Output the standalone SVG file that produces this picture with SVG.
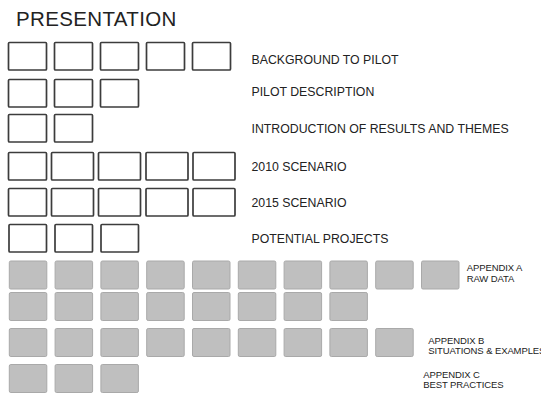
<svg xmlns="http://www.w3.org/2000/svg" width="541" height="393" viewBox="0 0 541 393">
  <style>
    .slide { fill: #ffffff; stroke: #3c3c3c; stroke-width: 1.7; }
    .extra { fill: #bfbfbf; stroke: #a9a9a9; stroke-width: 1; }
    .title { font-family: "Liberation Sans", Arial, sans-serif; font-size: 20.5px; letter-spacing: 0.35px; fill: #222; }
    .label { font-family: "Liberation Sans", Arial, sans-serif; font-size: 12.3px; fill: #222; }
    .small { font-family: "Liberation Sans", Arial, sans-serif; font-size: 9.5px; letter-spacing: -0.1px; fill: #222; }
  </style>
  <rect width="541" height="393" fill="#ffffff"/>

  <text class="title" x="16" y="26">PRESENTATION</text>

  <!-- main sections: one outlined box per slide -->
  <g id="background">
    <rect class="slide" x="8.5" y="42.5" width="38" height="27.5" rx="1"/>
    <rect class="slide" x="54.5" y="42.5" width="38" height="27.5" rx="1"/>
    <rect class="slide" x="100.5" y="42.5" width="38" height="27.5" rx="1"/>
    <rect class="slide" x="146.5" y="42.5" width="38" height="27.5" rx="1"/>
    <rect class="slide" x="192.5" y="42.5" width="38" height="27.5" rx="1"/>
    <text class="label" x="251.5" y="64">BACKGROUND TO PILOT</text>
  </g>
  <g id="pilot-description">
    <rect class="slide" x="8.5" y="79.5" width="38" height="27.5" rx="1"/>
    <rect class="slide" x="54.5" y="79.5" width="38" height="27.5" rx="1"/>
    <rect class="slide" x="100.5" y="79.5" width="38" height="27.5" rx="1"/>
    <text class="label" x="251.5" y="95.7">PILOT DESCRIPTION</text>
  </g>
  <g id="introduction">
    <rect class="slide" x="8.5" y="114.5" width="38" height="27.5" rx="1"/>
    <rect class="slide" x="54.5" y="114.5" width="38" height="27.5" rx="1"/>
    <text class="label" x="251.5" y="133.2">INTRODUCTION OF RESULTS AND THEMES</text>
  </g>
  <g id="scenario-2010">
    <rect class="slide" x="8.5" y="152.5" width="38" height="27.5" rx="1"/>
    <rect class="slide" x="51.5" y="152.5" width="42" height="27.5" rx="1"/>
    <rect class="slide" x="98.5" y="152.5" width="42" height="27.5" rx="1"/>
    <rect class="slide" x="146" y="152.5" width="42" height="27.5" rx="1"/>
    <rect class="slide" x="193" y="152.5" width="42" height="27.5" rx="1"/>
    <text class="label" x="251.5" y="170.6">2010 SCENARIO</text>
  </g>
  <g id="scenario-2015">
    <rect class="slide" x="8.5" y="188.5" width="38" height="27.5" rx="1"/>
    <rect class="slide" x="51.5" y="188.5" width="42" height="27.5" rx="1"/>
    <rect class="slide" x="98.5" y="188.5" width="42" height="27.5" rx="1"/>
    <rect class="slide" x="146" y="188.5" width="42" height="27.5" rx="1"/>
    <rect class="slide" x="193" y="188.5" width="42" height="27.5" rx="1"/>
    <text class="label" x="251.5" y="207.2">2015 SCENARIO</text>
  </g>
  <g id="potential-projects">
    <rect class="slide" x="9" y="224.5" width="37.5" height="27.5" rx="1"/>
    <rect class="slide" x="55" y="224.5" width="37.5" height="27.5" rx="1"/>
    <rect class="slide" x="101" y="224.5" width="37.5" height="27.5" rx="1"/>
    <text class="label" x="251.5" y="243.2">POTENTIAL PROJECTS</text>
  </g>

  <!-- appendices: filled grey boxes -->
  <g id="appendix-a">
    <rect class="extra" x="9.3" y="261" width="37.5" height="28" rx="1.5"/>
    <rect class="extra" x="55.1" y="261" width="37.5" height="28" rx="1.5"/>
    <rect class="extra" x="100.9" y="261" width="37.5" height="28" rx="1.5"/>
    <rect class="extra" x="146.7" y="261" width="37.5" height="28" rx="1.5"/>
    <rect class="extra" x="192.5" y="261" width="37.5" height="28" rx="1.5"/>
    <rect class="extra" x="238.3" y="261" width="37.5" height="28" rx="1.5"/>
    <rect class="extra" x="284.1" y="261" width="37.5" height="28" rx="1.5"/>
    <rect class="extra" x="329.9" y="261" width="37.5" height="28" rx="1.5"/>
    <rect class="extra" x="375.7" y="261" width="37.5" height="28" rx="1.5"/>
    <rect class="extra" x="421.5" y="261" width="37.5" height="28" rx="1.5"/>
    <rect class="extra" x="9.3" y="292.5" width="37.5" height="28" rx="1.5"/>
    <rect class="extra" x="55.1" y="292.5" width="37.5" height="28" rx="1.5"/>
    <rect class="extra" x="100.9" y="292.5" width="37.5" height="28" rx="1.5"/>
    <rect class="extra" x="146.7" y="292.5" width="37.5" height="28" rx="1.5"/>
    <rect class="extra" x="192.5" y="292.5" width="37.5" height="28" rx="1.5"/>
    <rect class="extra" x="238.3" y="292.5" width="37.5" height="28" rx="1.5"/>
    <rect class="extra" x="284.1" y="292.5" width="37.5" height="28" rx="1.5"/>
    <rect class="extra" x="329.9" y="292.5" width="37.5" height="28" rx="1.5"/>
    <text class="small" x="466.7" y="270.8">APPENDIX A</text>
    <text class="small" x="466.7" y="281.7">RAW DATA</text>
  </g>
  <g id="appendix-b">
    <rect class="extra" x="9.3" y="328.5" width="37.5" height="28" rx="1.5"/>
    <rect class="extra" x="55.1" y="328.5" width="37.5" height="28" rx="1.5"/>
    <rect class="extra" x="100.9" y="328.5" width="37.5" height="28" rx="1.5"/>
    <rect class="extra" x="146.7" y="328.5" width="37.5" height="28" rx="1.5"/>
    <rect class="extra" x="192.5" y="328.5" width="37.5" height="28" rx="1.5"/>
    <rect class="extra" x="238.3" y="328.5" width="37.5" height="28" rx="1.5"/>
    <rect class="extra" x="284.1" y="328.5" width="37.5" height="28" rx="1.5"/>
    <rect class="extra" x="329.9" y="328.5" width="37.5" height="28" rx="1.5"/>
    <rect class="extra" x="375.7" y="328.5" width="37.5" height="28" rx="1.5"/>
    <text class="small" x="428.3" y="344.4">APPENDIX B</text>
    <text class="small" x="428.3" y="354.4" letter-spacing="0.3">SITUATIONS &amp; EXAMPLES</text>
  </g>
  <g id="appendix-c">
    <rect class="extra" x="9.3" y="364.5" width="37.5" height="28" rx="1.5"/>
    <rect class="extra" x="55.1" y="364.5" width="37.5" height="28" rx="1.5"/>
    <rect class="extra" x="100.9" y="364.5" width="37.5" height="28" rx="1.5"/>
    <text class="small" x="423.3" y="377.7">APPENDIX C</text>
    <text class="small" x="423.3" y="387.7">BEST PRACTICES</text>
  </g>
</svg>
